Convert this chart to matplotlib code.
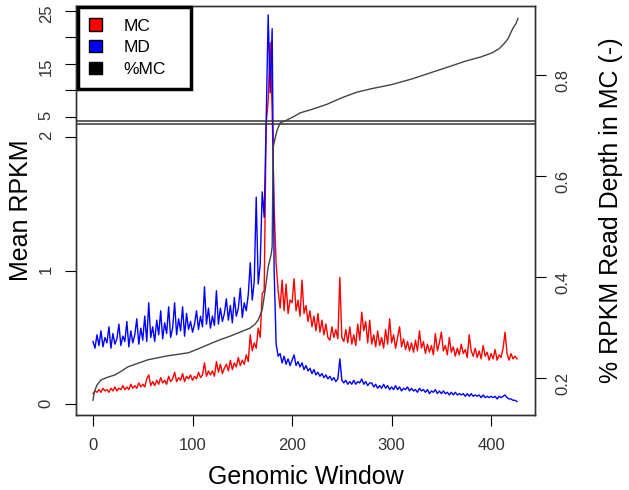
import numpy as np
import matplotlib
matplotlib.use('Agg')
import matplotlib.pyplot as plt
from matplotlib.patches import Patch

plt.rcParams['font.family'] = ['Liberation Sans', 'DejaVu Sans']

# genomic windows (every second window)
win = np.arange(0, 428, 2)

mc = [
    0.08, 0.10, 0.09, 0.11, 0.09, 0.12, 0.10, 0.11, 0.09, 0.12, 0.10, 0.13, 0.10, 0.12, 0.11, 0.14, 0.11, 0.13, 0.11, 0.15,
    0.12, 0.14, 0.12, 0.16, 0.13, 0.15, 0.13, 0.19, 0.22, 0.14, 0.17, 0.14, 0.18, 0.15, 0.20, 0.16, 0.18, 0.15, 0.21, 0.17,
    0.19, 0.24, 0.17, 0.20, 0.18, 0.23, 0.17, 0.21, 0.19, 0.22, 0.18, 0.21, 0.19, 0.24, 0.20, 0.22, 0.31, 0.21, 0.25, 0.22,
    0.25, 0.21, 0.32, 0.24, 0.30, 0.23, 0.27, 0.30, 0.25, 0.33, 0.26, 0.31, 0.28, 0.35, 0.29, 0.33, 0.30, 0.37, 0.32, 0.52,
    0.40, 0.46, 0.42, 0.57, 0.50, 0.83, 0.85, 2.5, 8.0, 19.0, 6.0, 1.47, 1.05, 0.85, 0.72, 0.93, 0.70, 0.90, 0.68, 0.78,
    0.76, 0.94, 0.70, 0.78, 0.66, 0.93, 0.68, 0.74, 0.62, 0.70, 0.58, 0.66, 0.55, 0.68, 0.54, 0.63, 0.52, 0.60, 0.50, 0.48,
    0.58, 0.50, 0.56, 0.49, 0.95, 0.50, 0.47, 0.56, 0.46, 0.58, 0.45, 0.52, 0.44, 0.60, 0.48, 0.69, 0.55, 0.62, 0.46, 0.63,
    0.45, 0.52, 0.43, 0.55, 0.44, 0.50, 0.42, 0.56, 0.45, 0.64, 0.46, 0.52, 0.42, 0.50, 0.58, 0.43, 0.49, 0.41, 0.47, 0.40,
    0.46, 0.39, 0.48, 0.40, 0.55, 0.42, 0.47, 0.38, 0.45, 0.39, 0.44, 0.37, 0.53, 0.40, 0.46, 0.54, 0.40, 0.44, 0.37, 0.50,
    0.39, 0.43, 0.36, 0.42, 0.37, 0.45, 0.38, 0.41, 0.35, 0.52, 0.40, 0.36, 0.42, 0.35, 0.40, 0.34, 0.44, 0.36, 0.39, 0.33,
    0.38, 0.34, 0.41, 0.33, 0.37, 0.35, 0.42, 0.54, 0.38, 0.33, 0.38, 0.34, 0.36, 0.34,
]

md = [
    0.47, 0.42, 0.52, 0.44, 0.55, 0.43, 0.50, 0.46, 0.58, 0.42, 0.53, 0.45, 0.49, 0.60, 0.44, 0.51, 0.47, 0.62, 0.43, 0.55,
    0.46, 0.52, 0.64, 0.45, 0.57, 0.48, 0.66, 0.47, 0.76, 0.50, 0.58, 0.47, 0.63, 0.52, 0.70, 0.49, 0.61, 0.53, 0.73, 0.50,
    0.57, 0.76, 0.52, 0.64, 0.55, 0.73, 0.51, 0.68, 0.56, 0.62, 0.54, 0.60, 0.70, 0.56, 0.66, 0.58, 0.88, 0.60, 0.72, 0.57,
    0.66, 0.59, 0.85, 0.60, 0.72, 0.62, 0.68, 0.79, 0.63, 0.74, 0.61, 0.80, 0.66, 0.72, 0.87, 0.65, 0.76, 0.70, 0.82, 1.06,
    0.78, 0.92, 1.55, 0.90, 1.05, 1.59, 1.40, 4.0, 24.2, 9.5, 21.6, 1.0, 0.45, 0.36, 0.38, 0.31, 0.36, 0.30, 0.34, 0.29,
    0.33, 0.37, 0.29, 0.32, 0.28, 0.31, 0.26, 0.29, 0.25, 0.27, 0.23, 0.26, 0.22, 0.24, 0.21, 0.23, 0.20, 0.22, 0.19, 0.21,
    0.18, 0.20, 0.17, 0.19, 0.34, 0.18, 0.16, 0.18, 0.15, 0.17, 0.15, 0.18, 0.15, 0.17, 0.16, 0.19, 0.15, 0.17, 0.14, 0.16,
    0.16, 0.13, 0.15, 0.12, 0.14, 0.12, 0.15, 0.12, 0.14, 0.11, 0.13, 0.11, 0.14, 0.11, 0.13, 0.10, 0.12, 0.11, 0.13, 0.10,
    0.12, 0.10, 0.11, 0.09, 0.12, 0.10, 0.11, 0.09, 0.11, 0.08, 0.10, 0.09, 0.11, 0.08, 0.10, 0.08, 0.10, 0.08, 0.09, 0.07,
    0.09, 0.07, 0.09, 0.07, 0.08, 0.07, 0.08, 0.06, 0.08, 0.06, 0.08, 0.06, 0.07, 0.06, 0.07, 0.05, 0.07, 0.05, 0.06, 0.05,
    0.06, 0.05, 0.06, 0.04, 0.06, 0.05, 0.06, 0.07, 0.05, 0.04, 0.04, 0.03, 0.03, 0.02,
]

# %MC (right axis)
pct_win = [0, 1, 2, 4, 8, 14, 22, 28, 35, 45, 55, 65, 75, 86, 96, 106, 118, 128, 138, 148, 158, 163, 166,
           170, 173, 176, 179, 180, 181, 183, 185, 188, 195, 202, 208, 220, 235, 250, 265, 280, 300, 320,
           340, 360, 375, 390, 401, 408, 413, 417, 420, 422, 425, 427]
pct_mc = [0.156, 0.168, 0.176, 0.186, 0.196, 0.201, 0.206, 0.213, 0.222, 0.229, 0.236, 0.240, 0.244, 0.247,
          0.250, 0.258, 0.268, 0.276, 0.283, 0.291, 0.299, 0.307, 0.315, 0.335, 0.374, 0.420, 0.445, 0.460,
          0.657, 0.675, 0.691, 0.705, 0.711, 0.718, 0.725, 0.732, 0.742, 0.755, 0.766, 0.773, 0.781, 0.792,
          0.805, 0.818, 0.828, 0.836, 0.844, 0.852, 0.862, 0.872, 0.885, 0.893, 0.902, 0.912]

# broken left axis: lower 0..2.1, upper 4.25..26
LO_TOP, HI_BOT = 2.10, 4.25
S_LO, S_HI, GAP = 133.5, 5.3, 3.0


def fwd(y):
    y = np.asarray(y, dtype=float)
    f1 = LO_TOP * S_LO
    lo = y * S_LO
    mid = f1 + (y - LO_TOP) / (HI_BOT - LO_TOP) * GAP
    hi = f1 + GAP + (y - HI_BOT) * S_HI
    return np.where(y <= LO_TOP, lo, np.where(y >= HI_BOT, hi, mid))


def inv(f):
    f = np.asarray(f, dtype=float)
    f1 = LO_TOP * S_LO
    f2 = f1 + GAP
    return np.where(f <= f1, f / S_LO,
                    np.where(f >= f2, HI_BOT + (f - f2) / S_HI,
                             LO_TOP + (f - f1) / GAP * (HI_BOT - LO_TOP)))


fig = plt.figure(figsize=(6.29, 4.90), dpi=100)
ax = fig.add_axes([76 / 629, 75 / 490, 459 / 629, 409 / 490])

ax.plot(win, mc, color='#ff0000', lw=1.0)
ax.plot(win, md, color='#0000ff', lw=1.0)

ax.set_yscale('function', functions=(fwd, inv))
ax.set_ylim(-0.08, 25.88)
ax.set_xlim(-17.08, 444.08)
ax.axhline(LO_TOP, color='#333333', lw=1.1)
ax.axhline(HI_BOT, color='#333333', lw=1.1)

ax.set_yticks([0, 1, 2, 5, 10, 15, 20, 25])
ax.set_yticklabels(['0', '1', '2', '5', '', '15', '', '25'])
ax.set_xticks([0, 100, 200, 300, 400])
ax.tick_params(axis='y', labelrotation=90, length=8, pad=8, labelsize=12, labelcolor='#333333')
ax.tick_params(axis='x', length=8, pad=8.5, labelsize=12, labelcolor='#333333')

ax.set_xlabel('Genomic Window', fontsize=18)
ax.set_ylabel('Mean RPKM', fontsize=18)
ax.xaxis.set_label_coords(0.5, -0.122)
ax.yaxis.set_label_coords(-0.094, 0.5)

ax2 = ax.twinx()
ax2.plot(pct_win, pct_mc, color='#444444', lw=1.0)
ax2.set_ylim(0.1267, 0.9367)
ax2.set_yticks([0.2, 0.4, 0.6, 0.8])
ax2.tick_params(axis='y', labelrotation=90, length=8, pad=6.5, labelsize=12, labelcolor='#333333')
ax2.set_ylabel('% RPKM Read Depth in MC (-)', fontsize=18)
ax2.yaxis.set_label_coords(1.14, 0.5)

for a in (ax, ax2):
    for s in a.spines.values():
        s.set_linewidth(1.0)
        s.set_color('#333333')

handles = [Patch(facecolor=c, edgecolor='black', lw=1.0) for c in ('#ff0000', '#0000ff', '#000000')]
leg = ax2.legend(handles, ['MC', 'MD', '%MC'], loc='upper left',
                 bbox_to_anchor=(0.0044, 0.0, 0.246, 0.9976), mode='expand', borderaxespad=0,
                 fontsize=12.5, fancybox=False, framealpha=1, edgecolor='black',
                 handlelength=0.72, handleheight=0.72, handletextpad=1.25,
                 labelspacing=0.38, borderpad=0.65)
leg.get_frame().set_linewidth(2.5)

fig.savefig('out.png', dpi=100)
